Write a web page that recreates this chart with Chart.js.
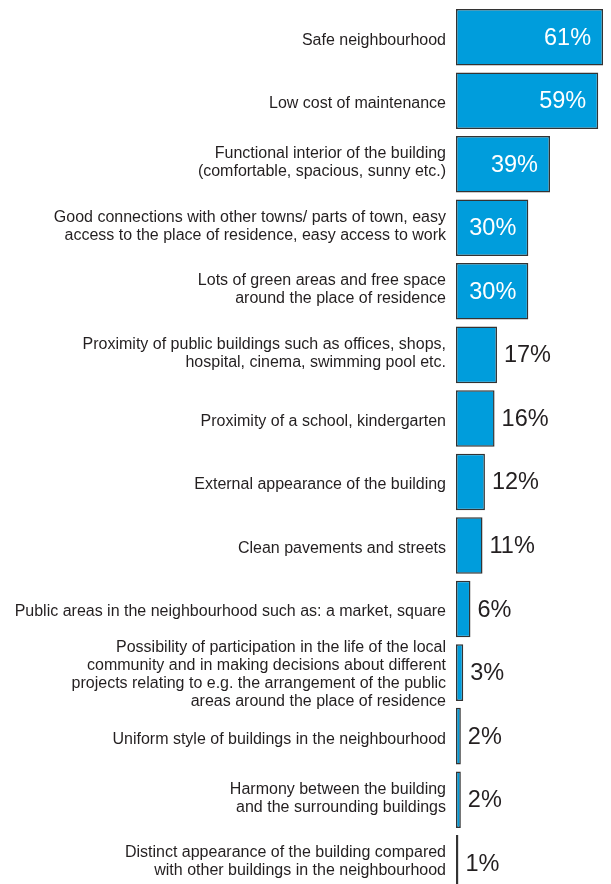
<!DOCTYPE html>
<html>
<head>
<meta charset="utf-8">
<script src="https://cdn.jsdelivr.net/npm/chart.js@4"></script>
<style>
  html, body { margin: 0; padding: 0; background: #fff; overflow: hidden; }
  #wrap { position: relative; width: 611px; height: 895px; }
</style>
</head>
<body>
<div id="wrap"><canvas id="reasons"></canvas></div>
<script>
// Reasons for choosing the place of residence (% of answers)
var reason_labels = [
  "Safe neighbourhood",
  "Low cost of maintenance",
  ["Functional interior of the building", "(comfortable, spacious, sunny etc.)"],
  ["Good connections with other towns/ parts of town, easy", "access to the place of residence, easy access to work"],
  ["Lots of green areas and free space", "around the place of residence"],
  ["Proximity of public buildings such as offices, shops,", "hospital, cinema, swimming pool etc."],
  "Proximity of a school, kindergarten",
  "External appearance of the building",
  "Clean pavements and streets",
  "Public areas in the neighbourhood such as: a market, square",
  ["Possibility of participation in the life of the local", "community and in making decisions about different", "projects relating to e.g. the arrangement of the public", "areas around the place of residence"],
  "Uniform style of buildings in the neighbourhood",
  ["Harmony between the building", "and the surrounding buildings"],
  ["Distinct appearance of the building compared", "with other buildings in the neighbourhood"]
];
var reason_shares = [61, 59, 39, 30, 30, 17, 16, 12, 11, 6, 3, 2, 2, 1];

const font_family = '"Liberation Sans", Arial, Helvetica, sans-serif';
const text_color = '#231f20';

// small vertical nudge of the category labels, depending on their number of lines
const labelShift = {
  id: 'labelShift',
  beforeDraw: function(chart) {
    var scale = chart.scales.y;
    var items = scale.getLabelItems(chart.chartArea);
    for (j = 0; j < items.length; j++) {
      var nb_lines = Array.isArray(items[j].label) ? items[j].label.length : 1;
      var dy = nb_lines == 1 ? 3 : (nb_lines == 2 ? -1.5 : 1.5);
      items[j].options.translation[1] += dy;
    }
  }
};

// value labels : white inside the long bars, dark after the short ones
const valueLabels = {
  id: 'valueLabels',
  afterDatasetsDraw: function(chart) {
    var ctx = chart.ctx;
    var meta = chart.getDatasetMeta(0);
    ctx.save();
    ctx.font = '23.5px ' + font_family;
    ctx.textBaseline = 'middle';
    for (j = 0; j < meta.data.length; j++) {
      var bar = meta.data[j];
      var txt = reason_shares[j] + '%';
      if (reason_shares[j] >= 30) {
        ctx.fillStyle = '#ffffff';
        ctx.textAlign = 'right';
        ctx.fillText(txt, bar.x - 12, bar.y + 1);
      } else {
        ctx.fillStyle = text_color;
        ctx.textAlign = 'left';
        ctx.fillText(txt, bar.x + 7, bar.y + 1);
      }
    }
    ctx.restore();
  }
};

const data_reasons = {
  labels: reason_labels,
  datasets: [{
    data: reason_shares,
    backgroundColor: '#009ddc',
    borderColor: '#333333',
    borderWidth: 1.5,
    borderSkipped: false,
    barPercentage: 0.89,
    categoryPercentage: 1
  }]
};

const config_reasons = {
  type: 'bar',
  data: data_reasons,
  options: {
    indexAxis: 'y',
    responsive: true,
    maintainAspectRatio: false,
    animation: false,
    layout: { padding: { top: 5.4, right: 0, bottom: 0, left: 0 } },
    plugins: {
      legend: { display: false },
      tooltip: { enabled: false }
    },
    scales: {
      x: {
        display: false,
        min: 0,
        max: 64.3
      },
      y: {
        grid: { display: false, drawTicks: false },
        border: { display: false },
        ticks: {
          autoSkip: false,
          color: text_color,
          padding: 10,
          font: { family: font_family, size: 16, lineHeight: 1.125 }
        },
        // fixed width so the bars start at the same place, no extra room for the labels
        afterFit: function(scale) {
          scale.width = 456;
          scale.paddingTop = 0;
          scale.paddingBottom = 0;
        }
      }
    }
  },
  plugins: [labelShift, valueLabels]
};

const reasons_Chart = new Chart(
  document.getElementById('reasons'),
  config_reasons
);
</script>
</body>
</html>
